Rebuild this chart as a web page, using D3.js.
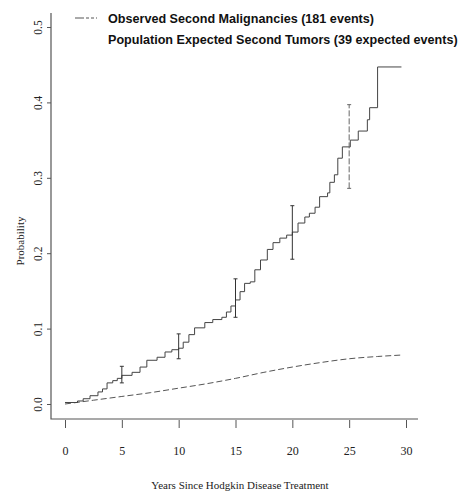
<!DOCTYPE html>
<html>
<head>
<meta charset="utf-8">
<script src="https://cdn.jsdelivr.net/npm/d3@7"></script>
<style>
  body { margin: 0; background: #fff; }
  svg { display: block; }
</style>
</head>
<body>
<svg id="chart" width="461" height="491"></svg>
<script>
// observed cumulative incidence (step function)
const obsYears = [0, 1.1, 1.6, 2.2, 2.9, 3.3, 3.7, 4.2, 4.6, 5.0, 5.9, 6.6, 7.2, 8.1, 8.8, 9.4,
  10.0, 10.4, 10.9, 11.4, 12.3, 13.0, 13.8, 14.2, 14.6, 15.0, 15.4, 15.8, 16.3, 16.7, 17.2, 17.8,
  18.3, 18.9, 19.5, 20.0, 20.5, 21.1, 21.5, 22.0, 22.4, 23.1, 23.3, 23.7, 24.0, 24.4, 25.1, 25.8,
  26.6, 26.8, 27.5, 29.6];
const obsProb = [0.002, 0.004, 0.007, 0.011, 0.016, 0.020, 0.028, 0.031, 0.034, 0.038, 0.042, 0.049,
  0.058, 0.062, 0.069, 0.072, 0.074, 0.082, 0.092, 0.101, 0.108, 0.112, 0.115, 0.122, 0.130, 0.138,
  0.149, 0.160, 0.162, 0.178, 0.191, 0.205, 0.214, 0.220, 0.224, 0.228, 0.240, 0.248, 0.253, 0.261,
  0.275, 0.280, 0.294, 0.304, 0.326, 0.341, 0.350, 0.362, 0.377, 0.393, 0.447, 0.447];

// population expected curve
const expYears = [0, 2.5, 5, 7.5, 10, 12.5, 15, 17.5, 20, 22.5, 25, 27.5, 29.7];
const expProb = [0, 0.005, 0.010, 0.015, 0.021, 0.027, 0.034, 0.042, 0.049, 0.055, 0.060, 0.063, 0.065];

// confidence bars
const ciYears = [5, 10, 15, 20, 25];
const ciLow = [0.028, 0.060, 0.115, 0.192, 0.286];
const ciHigh = [0.050, 0.093, 0.166, 0.263, 0.397];

const xTicks = [0, 5, 10, 15, 20, 25, 30];
const yTicks = [0, 0.1, 0.2, 0.3, 0.4, 0.5];
const legendLabels = ["Observed Second Malignancies (181 events)",
  "Population Expected Second Tumors (39 expected events)"];

const svg = d3.select("#chart");
const x = d3.scaleLinear().domain([0, 30]).range([65, 406]);
const y = d3.scaleLinear().domain([0, 0.5]).range([404, 27]);
const serif = "'Liberation Serif', 'DejaVu Serif', serif";
const axisCol = "#555";

// L-shaped frame
svg.append("path")
  .attr("d", "M51,13 V419 H418")
  .attr("fill", "none")
  .attr("stroke", axisCol)
  .attr("stroke-width", 1.2);

// y axis ticks + labels
const yAxis = svg.append("g")
  .attr("transform", "translate(51,0)")
  .call(d3.axisLeft(y).tickValues(yTicks).tickSize(4).tickFormat(d3.format(".1f")));
yAxis.select(".domain").remove();
yAxis.selectAll(".tick line").attr("stroke", axisCol);
yAxis.selectAll(".tick text")
  .attr("transform", "rotate(-90)")
  .attr("x", 0).attr("y", -9)
  .attr("dy", 0)
  .attr("text-anchor", "middle")
  .attr("font-family", serif)
  .attr("font-size", 11.5)
  .attr("fill", "#222");

// x axis ticks + labels
const xAxis = svg.append("g")
  .attr("transform", "translate(0,420)")
  .call(d3.axisBottom(x).tickValues(xTicks).tickSize(8).tickPadding(18));
xAxis.select(".domain").remove();
xAxis.selectAll(".tick line").attr("stroke", axisCol);
xAxis.selectAll(".tick text")
  .attr("font-family", serif)
  .attr("font-size", 12)
  .attr("fill", "#222");

// axis titles
svg.append("text")
  .attr("x", 240).attr("y", 489)
  .attr("text-anchor", "middle")
  .attr("font-family", serif)
  .attr("font-size", 11)
  .attr("fill", "#222")
  .text("Years Since Hodgkin Disease Treatment");
svg.append("text")
  .attr("transform", "translate(24,241) rotate(-90)")
  .attr("text-anchor", "middle")
  .attr("font-family", serif)
  .attr("font-size", 11)
  .attr("fill", "#222")
  .text("Probability");

// expected (dashed) line
const expLine = d3.line().x(d => x(d[0])).y(d => y(d[1])).curve(d3.curveMonotoneX);
svg.append("path")
  .datum(d3.zip(expYears, expProb))
  .attr("d", expLine)
  .attr("fill", "none")
  .attr("stroke", "#555")
  .attr("stroke-width", 1)
  .attr("stroke-dasharray", "6,3");

// observed step line
const obsLine = d3.line().x(d => x(d[0])).y(d => y(d[1])).curve(d3.curveStepAfter);
svg.append("path")
  .datum(d3.zip(obsYears, obsProb))
  .attr("d", obsLine)
  .attr("fill", "none")
  .attr("stroke", "#444")
  .attr("stroke-width", 1);

// confidence bars
const ci = svg.append("g").attr("stroke", "#333").attr("stroke-width", 1);
ciYears.forEach((t, i) => {
  const g = ci.append("g");
  if (t === 25) g.attr("stroke-dasharray", "6,2").attr("stroke", "#666");
  g.append("line").attr("x1", x(t)).attr("x2", x(t)).attr("y1", y(ciLow[i])).attr("y2", y(ciHigh[i]));
  [ciLow[i], ciHigh[i]].forEach(v => {
    g.append("line").attr("x1", x(t) - 2).attr("x2", x(t) + 2).attr("y1", y(v)).attr("y2", y(v));
  });
});

// legend
const leg = svg.append("g");
leg.append("line")
  .attr("x1", 75).attr("x2", 97).attr("y1", 18).attr("y2", 18)
  .attr("stroke", "#555").attr("stroke-width", 1)
  .attr("stroke-dasharray", "9,2,3,2,3,2");
leg.selectAll("text")
  .data(legendLabels)
  .join("text")
  .attr("x", 108)
  .attr("y", (d, i) => 23 + i * 21)
  .attr("font-family", "'Liberation Sans', Arial, sans-serif")
  .attr("font-weight", "bold")
  .attr("font-size", 12.6)
  .attr("fill", "#111")
  .text(d => d);
</script>
</body>
</html>
